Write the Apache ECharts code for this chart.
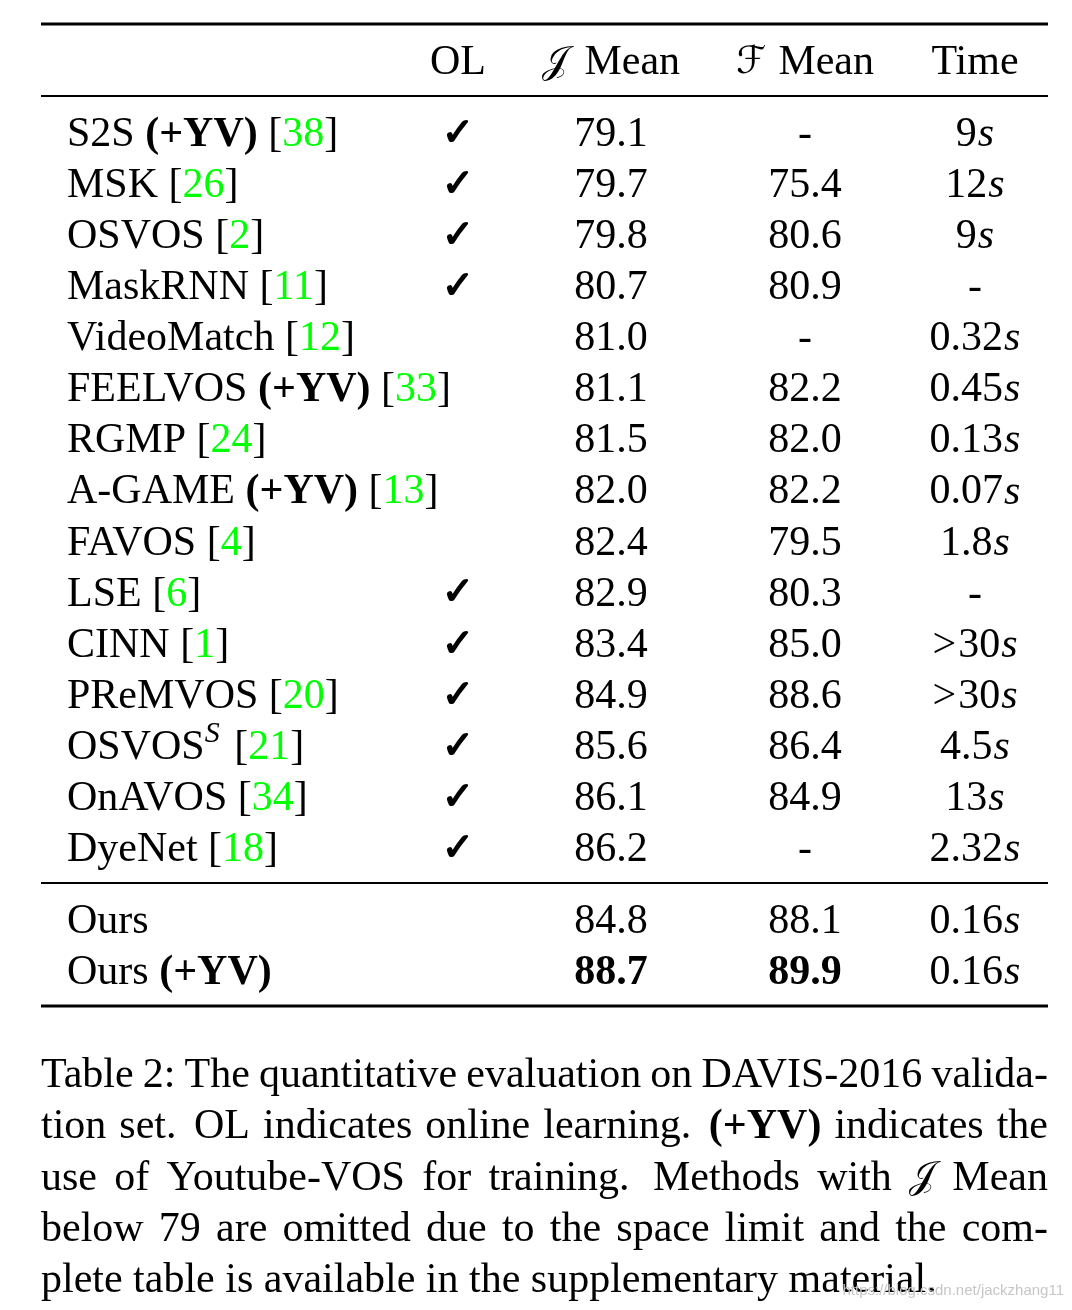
<!DOCTYPE html>
<html>
<head>
<meta charset="utf-8">
<title>DAVIS-2016 validation</title>
<script src="https://cdn.jsdelivr.net/npm/echarts@6/dist/echarts.min.js"></script>
<style>
html, body { margin: 0; padding: 0; background: #fff; }
#main { width: 1072px; height: 1310px; }
</style>
</head>
<body>
<div id="main"></div>
<script>
// 表格数据
var methods = ['S2S (+YV)', 'MSK', 'OSVOS', 'MaskRNN', 'VideoMatch', 'FEELVOS (+YV)', 'RGMP', 'A-GAME (+YV)',
    'FAVOS', 'LSE', 'CINN', 'PReMVOS', 'OSVOS^S', 'OnAVOS', 'DyeNet', 'Ours', 'Ours (+YV)'];
var refs = [38, 26, 2, 11, 12, 33, 24, 13, 4, 6, 1, 20, 21, 34, 18, null, null];
var onlineLearning = [1, 1, 1, 1, 0, 0, 0, 0, 0, 1, 1, 1, 1, 1, 1, 0, 0];
var jMean = [79.1, 79.7, 79.8, 80.7, 81.0, 81.1, 81.5, 82.0, 82.4, 82.9, 83.4, 84.9, 85.6, 86.1, 86.2, 84.8, 88.7];
var fMean = [null, 75.4, 80.6, 80.9, null, 82.2, 82.0, 82.2, 79.5, 80.3, 85.0, 88.6, 86.4, 84.9, null, 88.1, 89.9];
var timeCost = ['9', '12', '9', null, '0.32', '0.45', '0.13', '0.07', '1.8', null, '>30', '>30', '4.5', '13', '2.32', '0.16', '0.16'];
var rowBlock = [0, 0, 0, 0, 0, 0, 0, 0, 0, 0, 0, 0, 0, 0, 0, 1, 1];
var headers = ['', 'OL', '𝒥 Mean', 'ℱ Mean', 'Time'];
var captionLines = [
    'Table 2: The quantitative evaluation on DAVIS-2016 valida-',
    'tion set.  OL indicates online learning.  *(+YV)* indicates the',
    'use of Youtube-VOS for training.  Methods with 𝒥 Mean',
    'below 79 are omitted due to the space limit and the com-',
    'plete table is available in the supplementary material.'
];

// 样式
var FONT = "'Liberation Serif', 'Times New Roman', serif";
var MATH_FONT = "'DejaVu Serif', 'DejaVu Sans', serif";
var FS = 42;
var GREEN = '#00ff00';
var TEXT_DY = 3; // 'middle' 基线比字母视觉中心略高
var colX = [0.0258, 0.4141, 0.566, 0.7587, 0.9275]; // 列锚点（表宽的比例）
var PAD = 0.705; // 横线到文字中心的距离（以行高为单位）

var measureCtx = document.createElement('canvas').getContext('2d');
function fontOf(r) {
    return (r.italic ? 'italic ' : '') + (r.bold ? 'bold ' : '') + (r.size || FS) + 'px ' + (r.family || FONT);
}
function widthOf(r) {
    measureCtx.font = fontOf(r);
    return measureCtx.measureText(r.text).width;
}
function textEl(r, x, y) {
    var style = {
        text: r.text,
        fontSize: r.size || FS,
        fontFamily: r.family || FONT,
        fontWeight: r.bold ? 'bold' : 'normal',
        fontStyle: r.italic ? 'italic' : 'normal',
        fill: r.color || '#000',
        align: 'left',
        verticalAlign: 'middle',
        textAlign: 'left',
        textVerticalAlign: 'middle'
    };
    if (r.stroke) {
        style.stroke = r.color || '#000';
        style.lineWidth = r.stroke;
    }
    return { type: 'text', x: x, y: y + TEXT_DY + (r.dy || 0), style: style };
}
function placeRuns(runs, x, y, align) {
    var tot = 0;
    runs.forEach(function (r) { r.w = widthOf(r) + (r.gap || 0); tot += r.w; });
    var cx = align === 'center' ? x - tot / 2 : (align === 'right' ? x - tot : x);
    return runs.map(function (r) {
        var el = textEl(r, cx, y);
        cx += r.w;
        return el;
    });
}

function methodRuns(i) {
    var name = methods[i];
    var runs = [];
    if (name.indexOf(' (+YV)') >= 0) {
        runs.push({ text: name.replace(' (+YV)', '') + ' ' });
        runs.push({ text: '(+YV)', bold: true });
    } else if (name.indexOf('^') >= 0) {
        var p = name.split('^');
        runs.push({ text: p[0] });
        runs.push({ text: p[1], italic: true, size: 30, dy: -14, gap: 4 });
    } else {
        runs.push({ text: name });
    }
    if (refs[i] != null) {
        runs.push({ text: ' [' });
        runs.push({ text: String(refs[i]), color: GREEN });
        runs.push({ text: ']' });
    }
    return runs;
}
function scoreRuns(arr, i) {
    if (arr[i] == null) return [{ text: '-' }];
    var best = Math.max.apply(null, arr.filter(function (v) { return v != null; }));
    return [{ text: arr[i].toFixed(1), bold: arr[i] === best }];
}
function timeRuns(i) {
    var t = timeCost[i];
    if (t == null) return [{ text: '-' }];
    var runs = [];
    if (t.charAt(0) === '>') {
        runs.push({ text: '>', gap: 2 });
        t = t.slice(1);
    }
    runs.push({ text: t, gap: 1 });
    runs.push({ text: 's', italic: true });
    return runs;
}
function headerRuns(c) {
    var h = headers[c];
    var m = h.match(/^(𝒥|ℱ)(.*)$/);
    if (m) return [{ text: m[1], family: MATH_FONT, size: 38, gap: m[1] === 'ℱ' ? 2 : 6 }, { text: m[2] }];
    return [{ text: h }];
}

// 行位置与横线
var rowPos = [];
var rules = [];
var y = 0;
rules.push([0, y, 3]);
y += PAD;
var headerPos = y;
y += PAD;
rules.push([0, y, 2]);
var nBlocks = Math.max.apply(null, rowBlock) + 1;
for (var b = 0; b < nBlocks; b++) {
    y += PAD;
    rowBlock.forEach(function (bb, i) {
        if (bb === b) { rowPos[i] = y; y += 1; }
    });
    y = y - 1 + PAD;
    rules.push([0, y, b === nBlocks - 1 ? 3 : 2]);
}
var totalUnits = y;

var rowData = [[0, headerPos, -1]];
methods.forEach(function (m, i) { rowData.push([0, rowPos[i], i]); });

// 标题说明（两端对齐）
var CAP_LEFT = 41, CAP_WIDTH = 1007, CAP_TOP = 1073, CAP_STEP = 51.3;
var captionEls = [];
captionLines.forEach(function (line, li) {
    var parts = line.split(/( +)/);
    var words = [], gaps = [];
    parts.forEach(function (p, k) {
        if (k % 2 === 0) {
            var r;
            if (/^\*.*\*$/.test(p)) r = { text: p.slice(1, -1), bold: true };
            else if (p === '𝒥') r = { text: p, family: MATH_FONT, size: 38 };
            else r = { text: p };
            r.w = widthOf(r);
            words.push(r);
        } else {
            gaps.push(p.length > 1 ? 1.35 : 1);
        }
    });
    var wordsW = words.reduce(function (s, r) { return s + r.w; }, 0);
    var gapW = gaps.reduce(function (s, g) { return s + g; }, 0);
    var unit = li === captionLines.length - 1 ? widthOf({ text: ' ' }) : (CAP_WIDTH - wordsW) / gapW;
    var cx = CAP_LEFT;
    var cy = CAP_TOP + li * CAP_STEP;
    words.forEach(function (r, k) {
        captionEls.push(textEl(r, cx, cy));
        cx += r.w + (k < gaps.length ? gaps[k] * unit : 0);
    });
});
captionEls.push({
    type: 'text',
    x: 1064,
    y: 1291,
    style: {
        text: 'https://blog.csdn.net/jackzhang11',
        fontSize: 15,
        fontFamily: "'Liberation Sans', Arial, sans-serif",
        fill: '#c6c6c6',
        align: 'right', textAlign: 'right',
        verticalAlign: 'middle', textVerticalAlign: 'middle'
    }
});

var chart = echarts.init(document.getElementById('main'), null, { renderer: 'canvas' });
var option = {
    backgroundColor: '#fff',
    animation: false,
    grid: { left: 41, top: 24, width: 1007, height: 982 },
    xAxis: { type: 'value', min: 0, max: 1, show: false },
    yAxis: { type: 'value', inverse: true, min: 0, max: totalUnits, show: false },
    graphic: { elements: captionEls },
    series: [
        {
            type: 'custom',
            name: 'rules',
            silent: true,
            clip: false,
            data: rules,
            encode: { x: 0, y: 1 },
            renderItem: function (params, api) {
                var p0 = api.coord([0, api.value(1)]);
                var p1 = api.coord([1, api.value(1)]);
                return {
                    type: 'line',
                    shape: { x1: p0[0], y1: p0[1], x2: p1[0], y2: p1[1] },
                    style: { stroke: '#000', lineWidth: api.value(2) }
                };
            }
        },
        {
            type: 'custom',
            name: 'cells',
            silent: true,
            clip: false,
            data: rowData,
            encode: { x: 0, y: 1 },
            renderItem: function (params, api) {
                var yy = api.coord([0, api.value(1)])[1];
                var i = api.value(2);
                var xs = colX.map(function (cx) { return api.coord([cx, 0])[0]; });
                var children = [];
                if (i < 0) {
                    for (var c = 1; c < headers.length; c++) {
                        children = children.concat(placeRuns(headerRuns(c), xs[c], yy, 'center'));
                    }
                } else {
                    children = children.concat(placeRuns(methodRuns(i), xs[0], yy, 'left'));
                    if (onlineLearning[i]) {
                        children = children.concat(placeRuns([{ text: '✓', family: "'DejaVu Sans', sans-serif", size: 38, stroke: 1.6 }], xs[1], yy, 'center'));
                    }
                    children = children.concat(placeRuns(scoreRuns(jMean, i), xs[2], yy, 'center'));
                    children = children.concat(placeRuns(scoreRuns(fMean, i), xs[3], yy, 'center'));
                    children = children.concat(placeRuns(timeRuns(i), xs[4], yy, 'center'));
                }
                return { type: 'group', children: children };
            }
        }
    ]
};
chart.setOption(option);
</script>
</body>
</html>
